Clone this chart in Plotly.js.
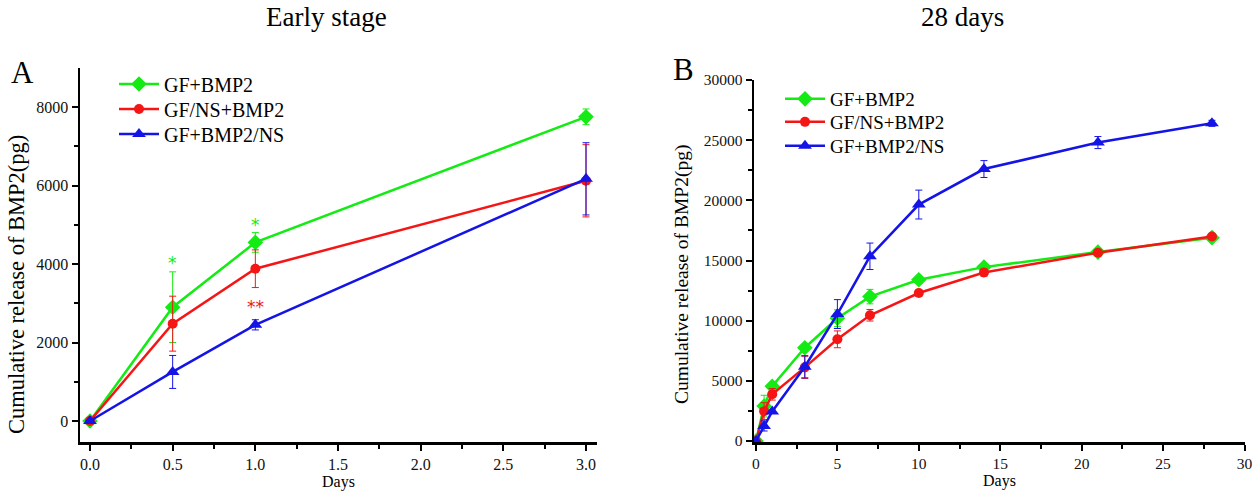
<!DOCTYPE html>
<html>
<head>
<meta charset="utf-8">
<script src="https://cdn.plot.ly/plotly-3.0.1.min.js"></script>
<style>html,body{margin:0;padding:0;background:#fff;}#chart{width:1260px;height:493px;}</style>
</head>
<body>
<div id="chart"></div>
<script>
// ---------- data ----------
const seriesNames = ['GF+BMP2', 'GF/NS+BMP2', 'GF+BMP2/NS'];

// Panel A: early stage
const daysA = [0, 0.5, 1, 3];
const gfBmp2A      = [0, 2900, 4550, 7750];
const gfBmp2ErrA   = [0, 900, 250, 200];
const gfNsBmp2A    = [0, 2480, 3880, 6120];
const gfNsBmp2ErrA = [0, 700, 480, 920];
const gfBmp2NsA    = [0, 1250, 2450, 6170];
const gfBmp2NsErrA = [0, 420, 130, 920];

// Panel B: 28 days
const daysB = [0, 0.5, 1, 3, 5, 7, 10, 14, 21, 28];
const gfBmp2B      = [0, 2900, 4550, 7750, 10200, 12000, 13400, 14450, 15700, 16900];
const gfBmp2ErrB   = [0, 900, 250, 200, 700, 600, 300, 250, 200, 200];
const gfNsBmp2B    = [0, 2480, 3880, 6120, 8450, 10450, 12300, 14000, 15650, 17000];
const gfNsBmp2ErrB = [0, 700, 480, 920, 700, 480, 250, 300, 200, 150];
const gfBmp2NsB    = [0, 1250, 2450, 6170, 10550, 15350, 19650, 22600, 24800, 26400];
const gfBmp2NsErrB = [0, 420, 130, 920, 1200, 1100, 1200, 700, 500, 250];

// significance marks (panel A)
const sigX = [0.5, 1, 1];
const sigY = [4150, 5120, 3030];
const sigText = ['*', '*', '**'];
const sigColorIdx = [0, 0, 1];

// ---------- style ----------
const colors = ['#14eb14', '#f51515', '#1414e6'];
const symbols = ['diamond', 'circle', 'triangle-up'];
const serif = 'Liberation Serif';

function mk(x, y, err, i, xa, ya, lg) {
  return {
    x: x, y: y, type: 'scatter', mode: 'lines+markers',
    name: seriesNames[i], xaxis: xa, yaxis: ya, legend: lg, showlegend: true,
    line: {color: colors[i], width: 2.5},
    marker: {color: colors[i], symbol: symbols[i], size: i === 1 ? 10 : 12},
    error_y: {type: 'data', array: err, visible: true, color: colors[i], thickness: 1, width: 3.5}
  };
}

const traces = [
  mk(daysA, gfBmp2A, gfBmp2ErrA, 0, 'x', 'y', 'legend'),
  mk(daysA, gfNsBmp2A, gfNsBmp2ErrA, 1, 'x', 'y', 'legend2'),
  mk(daysA, gfBmp2NsA, gfBmp2NsErrA, 2, 'x', 'y', 'legend3'),
  mk(daysB, gfBmp2B, gfBmp2ErrB, 0, 'x2', 'y2', 'legend4'),
  mk(daysB, gfNsBmp2B, gfNsBmp2ErrB, 1, 'x2', 'y2', 'legend5'),
  mk(daysB, gfBmp2NsB, gfBmp2NsErrB, 2, 'x2', 'y2', 'legend6')
];

function axisCommon(fs, minorDtick) {
  return {
    showline: true, linecolor: '#000', linewidth: 2.5, mirror: false,
    ticks: 'outside', ticklen: 6, tickwidth: 2, tickcolor: '#000',
    showgrid: false, zeroline: false,
    tickfont: {family: serif, size: fs, color: '#111'},
    minor: {ticks: 'outside', ticklen: 4, tickwidth: 2, tickcolor: '#000', dtick: minorDtick, tick0: 0, showgrid: false}
  };
}

const W = 1260, H = 493;
function lg(px, py, fs) {
  return {
    x: px / W, y: (H - py) / H, xanchor: 'left', yanchor: 'middle',
    bgcolor: 'rgba(0,0,0,0)', font: {family: serif, size: fs, color: '#000'},
    itemwidth: 40, borderwidth: 0
  };
}

const layout = {
  width: W, height: H,
  margin: {l: 0, r: 0, t: 0, b: 0},
  paper_bgcolor: '#fff', plot_bgcolor: '#fff',
  font: {family: serif, color: '#000'},
  xaxis: Object.assign(axisCommon(16, 0.25), {
    domain: [80 / W, 597 / W], range: [-0.0605, 3.0665], anchor: 'y',
    tickmode: 'linear', tick0: 0, dtick: 0.5, tickformat: '.1f',
    title: {text: 'Days', font: {family: serif, size: 16}, standoff: 0}
  }),
  yaxis: Object.assign(axisCommon(16, 1000), {
    domain: [(H - 442) / H, (H - 68) / H], range: [-535, 8994], anchor: 'x',
    tickmode: 'linear', tick0: 0, dtick: 2000, tickformat: 'd'
  }),
  xaxis2: Object.assign(axisCommon(15.5, 2.5), {
    domain: [754 / W, 1245 / W], range: [-0.12, 30.03], anchor: 'y2',
    tickmode: 'linear', tick0: 0, dtick: 5, tickformat: 'd',
    title: {text: 'Days', font: {family: serif, size: 16}, standoff: 0}
  }),
  yaxis2: Object.assign(axisCommon(15.5, 2500), {
    domain: [(H - 442) / H, (H - 80) / H], range: [-83, 30000], anchor: 'x2',
    tickmode: 'linear', tick0: 0, dtick: 5000, tickformat: 'd'
  }),
  legend:  lg(114, 84, 20),
  legend2: lg(114, 109, 20),
  legend3: lg(114, 134, 20),
  legend4: lg(780, 99, 19),
  legend5: lg(780, 122, 19),
  legend6: lg(780, 146, 19),
  annotations: [
    {text: 'Early stage', xref: 'paper', yref: 'paper', x: 326 / W, y: (H - 17) / H, showarrow: false,
     xanchor: 'center', yanchor: 'middle', font: {family: serif, size: 27, color: '#000'}},
    {text: '28 days', xref: 'paper', yref: 'paper', x: 963 / W, y: (H - 17) / H, showarrow: false,
     xanchor: 'center', yanchor: 'middle', font: {family: serif, size: 27, color: '#000'}},
    {text: 'A', xref: 'paper', yref: 'paper', x: 22 / W, y: (H - 72) / H, showarrow: false,
     xanchor: 'center', yanchor: 'middle', font: {family: serif, size: 31, color: '#000'}},
    {text: 'B', xref: 'paper', yref: 'paper', x: 683 / W, y: (H - 69) / H, showarrow: false,
     xanchor: 'center', yanchor: 'middle', font: {family: serif, size: 31, color: '#000'}},
    {text: 'Cumulative release of BMP2(pg)', xref: 'paper', yref: 'paper', x: 16 / W, y: (H - 285) / H,
     showarrow: false, textangle: -90, xanchor: 'center', yanchor: 'middle',
     font: {family: serif, size: 22.5, color: '#000'}},
    {text: 'Cumulative release of BMP2(pg)', xref: 'paper', yref: 'paper', x: 682 / W, y: (H - 275) / H,
     showarrow: false, textangle: -90, xanchor: 'center', yanchor: 'middle',
     font: {family: serif, size: 19.5, color: '#000'}}
  ]
};

for (let k = 0; k < sigX.length; k++) {
  layout.annotations.push({
    text: sigText[k], xref: 'x', yref: 'y', x: sigX[k], y: sigY[k], showarrow: false,
    xanchor: 'center', yanchor: 'middle', yshift: -5,
    font: {family: 'DejaVu Sans', size: 17, color: colors[sigColorIdx[k]]}
  });
}

Plotly.newPlot('chart', traces, layout, {displayModeBar: false, staticPlot: true});
</script>
</body>
</html>
